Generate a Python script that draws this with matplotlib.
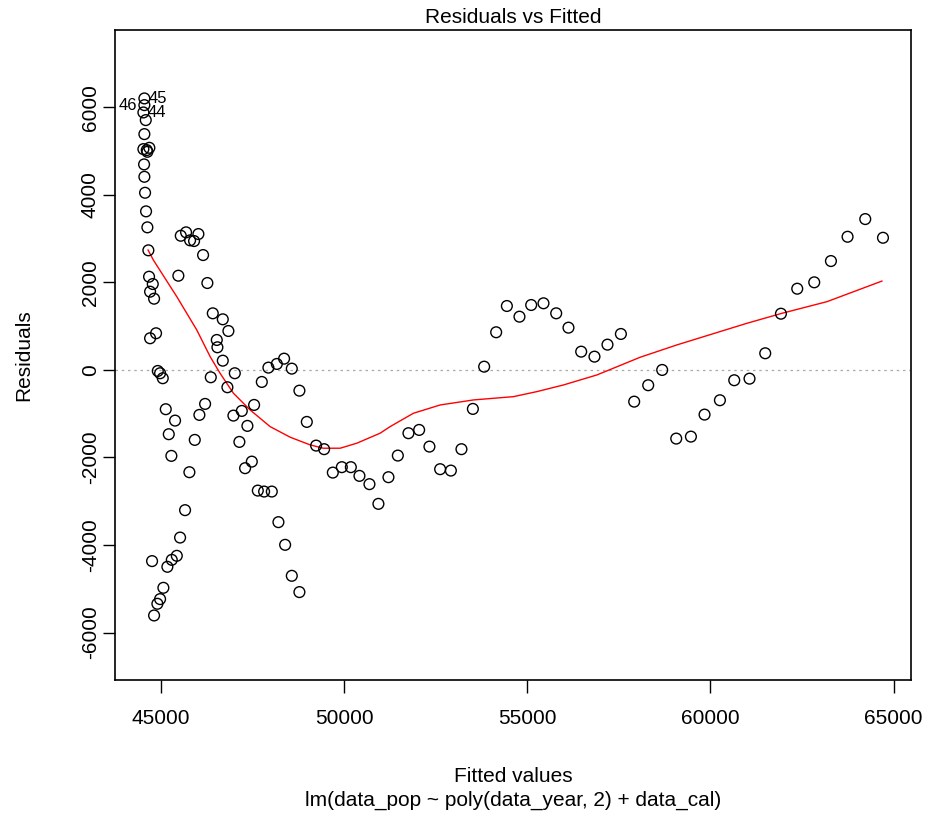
import matplotlib.pyplot as plt
import numpy as np

plt.rcParams['font.family'] = ['Liberation Sans', 'DejaVu Sans']
plt.rcParams['axes.unicode_minus'] = False

# fitted values and residuals
fitted = [44544, 44544, 44517, 44582, 44544, 44517, 44609, 44680, 44626, 44536,
          44544, 44563, 44590, 44626, 44653, 44672, 44773, 44700, 44809, 44700,
          44863, 44910, 44973, 45046, 45128, 45382, 45210, 45281, 44754, 45172,
          45292, 45429, 45063, 44973, 44899, 44809,
          45538, 45683, 45792, 45901, 46019, 46147, 45472, 46264, 46412, 46685,
          46838, 46521, 46538, 46685, 46357, 47013, 46811, 46202, 46046, 45920,
          46975, 47204, 47357, 47138, 47540, 45655, 45519, 45773, 47477, 47294,
          47641, 47813, 48023, 48204, 48387, 48569, 48777, 47930, 48160, 48359,
          48569, 47750, 48777, 48979, 49233, 49452, 49689, 49935, 50181, 50416,
          50689, 50934, 51208, 51464, 51754, 52046, 52327, 52619, 52912, 53201,
          53513, 53821, 54149, 54441, 54785, 55105, 55441, 55788, 56123, 56470,
          56833, 57188, 57554, 57917, 58300, 58682, 59065, 59466, 59838, 60258,
          60649, 61066, 61495, 61924, 62369, 62833, 63289, 63743, 64226, 64710]
residuals = [6203, 6050, 5883, 5708, 5388, 5045, 5023, 5075, 4984, 4696,
             4413, 4048, 3623, 3258, 2733, 2130, 1963, 1788, 1628, 724,
             838, -23, -75, -189, -897, -1157, -1468, -1963, -4367, -4497,
             -4338, -4246, -4977, -5235, -5342, -5609,
             3066, 3144, 2961, 2945, 3105, 2625, 2153, 1986, 1294, 1157,
             890, 685, 518, 212, -167, -75, -395, -776, -1027, -1598,
             -1043, -936, -1278, -1644, -799, -3203, -3829, -2336, -2094, -2244,
             -2756, -2778, -2778, -3477, -3995, -4703, -5075, 53, 137, 258,
             30, -274, -473, -1187, -1728, -1810, -2345, -2221, -2221, -2420,
             -2609, -3059, -2450, -1956, -1445, -1370, -1751, -2267, -2299, -1810,
             -890, 75, 861, 1461, 1217, 1484, 1523, 1294, 966, 418,
             304, 578, 822, -724, -349, 0, -1568, -1523, -1020, -692,
             -235, -199, 381, 1285, 1856, 2002, 2488, 3043, 3447, 3020]

# smoother curve
smooth_x = [44645, 44790, 45430, 45975, 46340, 46610, 46975, 47430, 47977, 48523,
            49070, 49432, 49890, 50345, 50980, 51255, 51890, 52620, 53530, 54620,
            55260, 55990, 56900, 58080, 59080, 59900, 60995, 61950, 63180, 64680]
smooth_y = [2740, 2510, 1673, 913, 304, -75, -532, -913, -1294, -1536,
            -1712, -1788, -1788, -1673, -1445, -1294, -989, -800, -685, -610,
            -495, -342, -114, 290, 571, 783, 1066, 1294, 1560, 2030]

# labelled outliers: (name, fitted, residual, side)
labels = [('45', 44544, 6203, 'right'), ('46', 44544, 6050, 'left'),
          ('44', 44517, 5883, 'right')]

fig = plt.figure(figsize=(9.28, 8.16), dpi=100)
ax = fig.add_axes([0.124, 0.167, 0.858, 0.796])

ax.axhline(0, color='#aaaaaa', linestyle=(0, (2, 3)), linewidth=0.9, zorder=1)
ax.scatter(fitted, residuals, s=60, facecolors='none', edgecolors='black',
           linewidths=1.0, zorder=3)
ax.plot(smooth_x, smooth_y, color='red', linewidth=1.0, zorder=2)

for name, fx, ry, side in labels:
    if side == 'left':
        ax.annotate(name, (fx, ry), xytext=(-5, 0), textcoords='offset points',
                    ha='right', va='center', fontsize=12)
    else:
        ax.annotate(name, (fx, ry), xytext=(3, 0), textcoords='offset points',
                    ha='left', va='center', fontsize=12)

ax.set_xlim(43744, 65483)
ax.set_ylim(-7077, 7762)
ax.set_xticks([45000, 50000, 55000, 60000, 65000])
ax.set_yticks([-6000, -4000, -2000, 0, 2000, 4000, 6000])
ax.tick_params(direction='out', length=9, width=1, labelsize=15)
ax.tick_params(axis='x', pad=12)
ax.tick_params(axis='y', pad=2)
for lbl in ax.get_yticklabels():
    lbl.set_rotation(90)
    lbl.set_va('center')
for sp in ax.spines.values():
    sp.set_linewidth(1.2)

ax.set_title('Residuals vs Fitted', fontsize=15, pad=5)
ax.set_ylabel('Residuals', fontsize=15, labelpad=34)
ax.set_xlabel('Fitted values\nlm(data_pop ~ poly(data_year, 2) + data_cal)',
              fontsize=15, labelpad=28, linespacing=1.3)

fig.savefig('out.png', dpi=100)
